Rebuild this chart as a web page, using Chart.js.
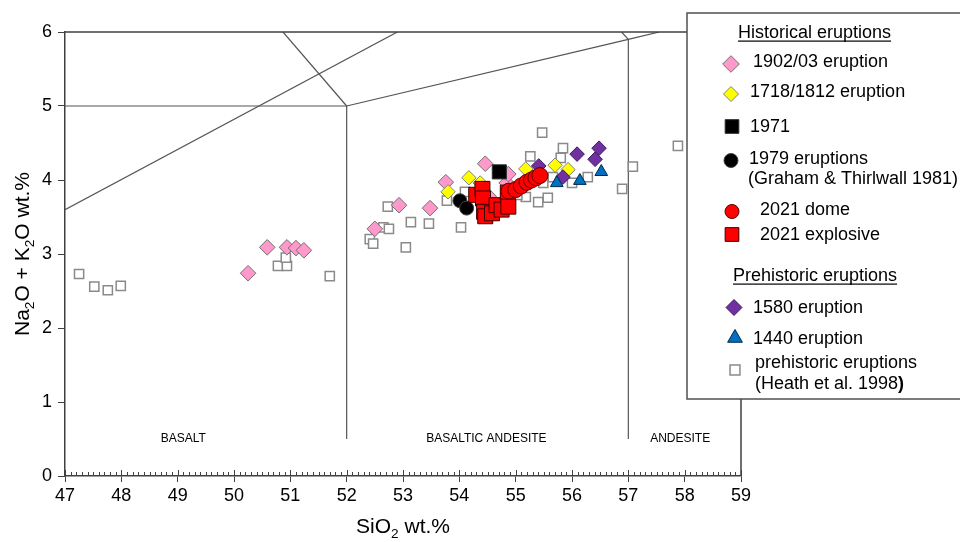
<!DOCTYPE html>
<html>
<head>
<meta charset="utf-8">
<script src="https://cdn.jsdelivr.net/npm/chart.js@4.4.1/dist/chart.umd.min.js"></script>
<style>
  html, body { margin: 0; padding: 0; background: #fff; }
  canvas { display: block; }
</style>
</head>
<body>
<canvas id="tas" width="960" height="542"></canvas>
<script>
// --- Data: [SiO2, Na2O+K2O] wt.% ---
const eruption1902 = [[50.25,2.74],[50.59,3.09],[50.94,3.09],[51.10,3.08],[51.24,3.05],[52.50,3.34],[52.93,3.66],[53.48,3.62],[53.76,3.97],[54.46,4.22],[54.84,3.96],[54.87,4.08],[54.52,3.78]];
const eruption1718 = [[53.80,3.84],[54.17,4.03],[54.37,3.96],[55.18,4.15],[55.70,4.20],[55.93,4.14]];
const eruption1971 = [[54.71,4.11]];
const eruption1979 = [[54.01,3.72],[54.13,3.62]];
const dome2021 = [[54.88,3.85],[55.00,3.87],[55.10,3.92],[55.20,3.97],[55.28,4.00],[55.36,4.03],[55.43,4.06]];
const explosive2021 = [[54.30,3.80],[54.41,3.88],[54.42,3.75],[54.44,3.57],[54.46,3.51],[54.58,3.55],[54.66,3.66],[54.75,3.60],[54.86,3.83],[54.87,3.64]];
const eruption1580 = [[55.41,4.19],[55.84,4.04],[56.09,4.35],[56.41,4.28],[56.48,4.43]];
const eruption1440 = [[55.73,3.96],[56.14,3.99],[56.52,4.11]];
const prehistoricHeath = [
  [47.25,2.73],[47.52,2.56],[47.76,2.51],[47.99,2.57],
  [50.78,2.84],[50.94,2.84],[50.92,2.95],[51.70,2.70],
  [52.41,3.20],[52.47,3.14],[52.65,3.36],[52.75,3.34],[52.73,3.64],[53.05,3.09],[53.14,3.43],[53.46,3.41],[53.78,3.72],[54.03,3.36],[54.10,3.84],
  [55.47,4.64],[55.84,4.43],[55.26,4.32],[55.80,4.30],[55.66,4.04],[56.28,4.04],[56.00,3.96],[55.49,3.96],[56.89,3.88],[57.08,4.18],
  [55.57,3.76],[55.40,3.70],[55.18,3.77],[55.03,3.80],[57.88,4.46]
];

// TAS field boundaries (clipped to the plotted window)
const boundaryLines = [
  [[47,5],[52,5]],
  [[52,0.5],[52,5]],
  [[57,0.5],[57,5.9]],
  [[52,5],[57,5.9],[57.55,6]],
  [[57,5.9],[56.88,6]],
  [[50.87,6],[52,5]],
  [[47,3.6],[52.9,6]]
];
const fieldLabels = ['BASALT', 'BASALTIC ANDESITE', 'ANDESITE'];
const fieldLabelX = [49.1, 54.48, 57.92];
const fieldLabelY = 0.46;

const xRange = [47, 59];
const yRange = [0, 6];

const legendLabels = {
  historical: 'Historical eruptions',
  prehistoric: 'Prehistoric eruptions',
  e1902: '1902/03 eruption',
  e1718: '1718/1812 eruption',
  e1971: '1971',
  e1979: ['1979 eruptions', '(Graham & Thirlwall 1981)'],
  dome: '2021 dome',
  explosive: '2021 explosive',
  e1580: '1580 eruption',
  e1440: '1440 eruption',
  heath: ['prehistoric eruptions', '(Heath et al. 1998', ')']
};

const FONT = "'Liberation Sans', Arial, sans-serif";

// --- marker styles ---
const styles = {
  e1902: { pointStyle: 'rectRot', radius: 7.8, backgroundColor: '#ff99cc', borderColor: '#707070', borderWidth: 1 },
  e1718: { pointStyle: 'rectRot', radius: 7.2, backgroundColor: '#ffff00', borderColor: '#808080', borderWidth: 1 },
  e1971: { pointStyle: 'rect', radius: 10, backgroundColor: '#000000', borderColor: '#333333', borderWidth: 1 },
  e1979: { pointStyle: 'circle', radius: 7, backgroundColor: '#000000', borderColor: '#444444', borderWidth: 1 },
  dome: { pointStyle: 'circle', radius: 8, backgroundColor: '#ff0000', borderColor: '#5a0000', borderWidth: 1 },
  explosive: { pointStyle: 'rect', radius: 10.6, backgroundColor: '#ff0000', borderColor: '#3a0000', borderWidth: 1 },
  e1580: { pointStyle: 'rectRot', radius: 7.3, backgroundColor: '#7030a0', borderColor: '#3d1a5c', borderWidth: 1 },
  e1440: { pointStyle: 'triangle', radius: 7.3, backgroundColor: '#0070c0', borderColor: '#00284a', borderWidth: 1 },
  heath: { pointStyle: 'rect', radius: 6.5, backgroundColor: '#ffffff', borderColor: '#8a8a8a', borderWidth: 1.5 }
};

function pts(arr) { return arr.map(p => ({ x: p[0], y: p[1] })); }

function scatterSet(key, data, order) {
  const s = styles[key];
  return {
    label: key,
    data: pts(data),
    order,
    showLine: false,
    pointStyle: s.pointStyle,
    pointRadius: s.radius,
    pointBackgroundColor: s.backgroundColor,
    pointBorderColor: s.borderColor,
    pointBorderWidth: s.borderWidth
  };
}

const datasets = [
  scatterSet('dome', dome2021, 1),
  scatterSet('explosive', explosive2021, 2),
  scatterSet('e1971', eruption1971, 3),
  scatterSet('e1979', eruption1979, 4),
  scatterSet('e1440', eruption1440, 5),
  scatterSet('e1580', eruption1580, 6),
  scatterSet('e1718', eruption1718, 7),
  scatterSet('e1902', eruption1902, 8),
  scatterSet('heath', prehistoricHeath, 9)
];
boundaryLines.forEach((line, i) => {
  datasets.push({
    label: 'boundary' + i,
    data: pts(line),
    order: 20,
    showLine: true,
    borderColor: '#555555',
    borderWidth: 1.2,
    pointRadius: 0,
    fill: false
  });
});

// text with subscripts: parts = [[text, isSub], ...]
function richText(ctx, parts, x, y, size, align) {
  let w = 0;
  parts.forEach(p => {
    ctx.font = (p[1] ? size * 0.65 : size) + 'px ' + FONT;
    w += ctx.measureText(p[0]).width;
  });
  let cx = align === 'center' ? x - w / 2 : x;
  ctx.textAlign = 'left';
  parts.forEach(p => {
    ctx.font = (p[1] ? size * 0.65 : size) + 'px ' + FONT;
    ctx.fillText(p[0], cx, p[1] ? y + size * 0.22 : y);
    cx += ctx.measureText(p[0]).width;
  });
}

function marker(ctx, key, x, y, radius) {
  const s = styles[key];
  ctx.save();
  ctx.fillStyle = s.backgroundColor;
  ctx.strokeStyle = s.borderColor;
  ctx.lineWidth = s.borderWidth;
  Chart.helpers.drawPoint(ctx, { pointStyle: s.pointStyle, radius: radius, borderWidth: s.borderWidth, rotation: 0 }, x, y);
  ctx.restore();
}

function underlined(ctx, text, x, y, size) {
  ctx.font = size + 'px ' + FONT;
  ctx.textAlign = 'left';
  ctx.fillText(text, x, y);
  const w = ctx.measureText(text).width;
  ctx.fillRect(x, y + 2.5, w, 1.2);
}

const tasExtras = {
  id: 'tasExtras',
  afterDraw(chart) {
    const { ctx, chartArea: a, scales: { x, y } } = chart;
    ctx.save();

    // top and right frame
    ctx.strokeStyle = '#404040';
    ctx.lineWidth = 1.5;
    ctx.beginPath();
    ctx.moveTo(a.left, a.top);
    ctx.lineTo(a.right, a.top);
    ctx.lineTo(a.right, a.bottom);
    ctx.stroke();

    // minor ticks on SiO2 axis (every 0.1)
    ctx.lineWidth = 1;
    ctx.strokeStyle = '#404040';
    ctx.beginPath();
    for (let i = xRange[0] * 10; i <= xRange[1] * 10; i++) {
      const px = Math.round(x.getPixelForValue(i / 10)) + 0.5;
      const len = i % 10 === 0 ? 6 : 4;
      ctx.moveTo(px, a.bottom);
      ctx.lineTo(px, a.bottom - len);
    }
    ctx.stroke();

    // field names
    ctx.fillStyle = '#000';
    ctx.font = '12px ' + FONT;
    ctx.textAlign = 'center';
    ctx.textBaseline = 'alphabetic';
    fieldLabels.forEach((t, i) => {
      ctx.fillText(t, x.getPixelForValue(fieldLabelX[i]), y.getPixelForValue(fieldLabelY));
    });

    // axis titles
    richText(ctx, [['SiO', 0], ['2', 1], [' wt.%', 0]], (a.left + a.right) / 2, 533, 21, 'center');
    ctx.save();
    ctx.translate(29, (a.top + a.bottom) / 2);
    ctx.rotate(-Math.PI / 2);
    richText(ctx, [['Na', 0], ['2', 1], ['O + K', 0], ['2', 1], ['O wt.%', 0]], 0, 0, 21, 'center');
    ctx.restore();

    // legend box
    ctx.fillStyle = '#fff';
    ctx.strokeStyle = '#505050';
    ctx.lineWidth = 1.5;
    ctx.fillRect(687, 13, 290, 386);
    ctx.strokeRect(687, 13, 290, 386);

    ctx.fillStyle = '#000';
    const fs = 18;
    underlined(ctx, legendLabels.historical, 738, 38, fs);

    marker(ctx, 'e1902', 731, 64, 8.3);
    ctx.font = fs + 'px ' + FONT; ctx.fillText(legendLabels.e1902, 753, 67);
    marker(ctx, 'e1718', 731, 94, 7.5);
    ctx.fillText(legendLabels.e1718, 750, 97);
    marker(ctx, 'e1971', 732, 126.5, 9.7);
    ctx.fillText(legendLabels.e1971, 750, 132);
    marker(ctx, 'e1979', 731, 160.5, 7);
    ctx.fillText(legendLabels.e1979[0], 749, 164);
    ctx.fillText(legendLabels.e1979[1], 748, 184);
    marker(ctx, 'dome', 732, 211.5, 7);
    ctx.fillText(legendLabels.dome, 760, 215);
    marker(ctx, 'explosive', 732, 234.5, 9.7);
    ctx.fillText(legendLabels.explosive, 760, 239.5);

    underlined(ctx, legendLabels.prehistoric, 733, 281, fs);

    ctx.font = fs + 'px ' + FONT;
    marker(ctx, 'e1580', 734, 307.5, 8);
    ctx.fillText(legendLabels.e1580, 753, 313);
    marker(ctx, 'e1440', 735, 338, 8.5);
    ctx.fillText(legendLabels.e1440, 753, 344);
    marker(ctx, 'heath', 735, 370, 7);
    ctx.font = fs + 'px ' + FONT;
    ctx.fillText(legendLabels.heath[0], 755, 368);
    ctx.fillText(legendLabels.heath[1], 755, 389);
    const w = ctx.measureText(legendLabels.heath[1]).width;
    ctx.font = 'bold ' + fs + 'px ' + FONT;
    ctx.fillText(legendLabels.heath[2], 755 + w, 389);

    ctx.restore();
  }
};

const tickFont = { family: FONT, size: 18 };

new Chart(document.getElementById('tas'), {
  type: 'scatter',
  data: { datasets },
  options: {
    responsive: false,
    animation: false,
    devicePixelRatio: 1,
    layout: { padding: { left: 0, top: 32, right: 219, bottom: 0 } },
    plugins: { legend: { display: false }, tooltip: { enabled: false } },
    scales: {
      x: {
        type: 'linear',
        min: xRange[0],
        max: xRange[1],
        ticks: { stepSize: 1, color: '#000', font: tickFont, padding: 3, maxRotation: 0 },
        grid: { drawOnChartArea: false, drawTicks: true, tickLength: 6, color: '#404040' },
        border: { color: '#404040', width: 1.5 },
        afterFit(s) { s.height = 66; }
      },
      y: {
        type: 'linear',
        min: yRange[0],
        max: yRange[1],
        ticks: { stepSize: 1, color: '#000', font: tickFont, padding: 6 },
        grid: { drawOnChartArea: false, drawTicks: true, tickLength: 7, color: '#404040' },
        border: { color: '#404040', width: 1.5 },
        afterFit(s) { s.width = 65; }
      }
    }
  },
  plugins: [tasExtras]
});
</script>
</body>
</html>
